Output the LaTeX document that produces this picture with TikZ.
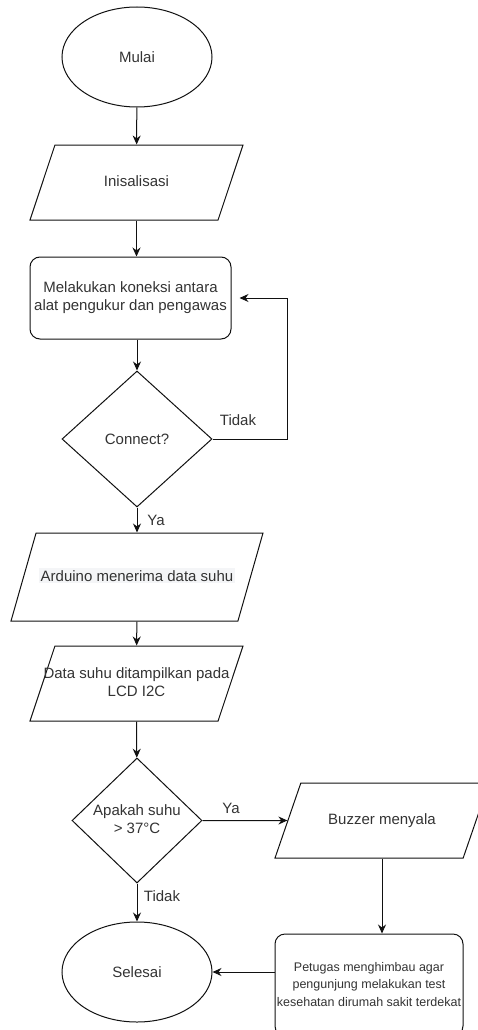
\documentclass[tikz,border=0pt]{standalone}
\usepackage{fontspec}
\setmainfont{Liberation Sans}
\usetikzlibrary{arrows.meta, shapes.geometric, positioning}
\definecolor{textgray}{HTML}{333333}
\definecolor{linegray}{HTML}{111111}
\definecolor{markbg}{HTML}{F4F5F7}
\newcommand{\flowlines}[1]{\makebox[0pt]{\begin{tabular}{@{}c@{}}#1\end{tabular}}}

\begin{document}
\begin{tikzpicture}[x=1pt, y=-1pt, ->, >={Stealth[length=9pt, width=8pt]},
		line width=1pt, color=linegray, text=textgray,
		font=\fontsize{15}{18}\selectfont,
		terminal/.style={ellipse, draw, minimum width=150pt, minimum height=100pt, inner sep=0pt},
		process/.style={rectangle, rounded corners=10pt, draw, inner sep=0pt},
		io/.style={trapezium, trapezium left angle=71.6, trapezium right angle=108.4,
			trapezium stretches body, draw, inner xsep=0pt},
		oneline/.style={text height=11pt, text depth=3pt},
		decision/.style={diamond, draw, inner sep=0pt},
		branch/.style={inner sep=0pt}]

		\useasboundingbox (0, 0) rectangle (477, 1030);

		%% Nodes
		\begin{scope}
			\node (mulai) at (137, 57) [terminal] {Mulai};
			\node (init) at (136.5, 182.5) [io, oneline, inner ysep=30.5pt, minimum width=213pt] {Inisalisasi};
			\node (koneksi) at (130.5, 298) [process, minimum width=201pt, minimum height=82pt, align=center] {Melakukan koneksi antara\\alat pengukur dan pengawas};
			\node (connect) at (137, 439) [decision, minimum width=150pt, minimum height=136pt] {Connect?};
		\end{scope}

		% Data suhu
		\begin{scope}
			\node (arduino) at (137, 577) [io, trapezium left angle=74.1, trapezium right angle=105.9,
				text height=13pt, text depth=5pt, inner ysep=35pt, minimum width=252pt]
				{\setlength{\fboxsep}{2pt}\colorbox{markbg}{Arduino menerima data suhu}};
			\node (datasuhu) at (136.5, 683.5) [io, inner ysep=19.5pt, minimum width=213pt] {\flowlines{Data suhu ditampilkan pada\\LCD I2C}};
			\node (apakah) at (137, 820.5) [decision, minimum width=130pt, minimum height=125pt] {\flowlines{Apakah suhu\\> 37°C}};
		\end{scope}

		% Hasil
		\begin{scope}
			\node (buzzer) at (382, 820.5) [io, oneline, trapezium left angle=71, trapezium right angle=109,
				inner ysep=30.5pt, minimum width=214pt] {Buzzer menyala};
			\node (petugas) at (369, 985) [process, minimum width=188pt, minimum height=102pt, font=\fontsize{12.5}{17.5}\selectfont] {\flowlines{Petugas menghimbau agar\\pengunjung melakukan test\\kesehatan dirumah sakit terdekat}};
			\node (selesai) at (137, 972) [terminal] {Selesai};
		\end{scope}

		% Labels
		\node (tidak_loop) at (238, 420) [branch] {Tidak};
		\node (ya_connect) at (156, 520) [branch] {Ya};
		\node (ya_buzzer) at (231, 808) [branch] {Ya};
		\node (tidak_selesai) at (162, 896) [branch] {Tidak};

		\coordinate (loop_corner) at (287, 439);

		%% Edges
		\draw (mulai) -- (init);
		\draw (init) -- (init |- koneksi.north);
		\draw (koneksi.south -| connect) -- (connect);
		\draw (connect.east) -- (loop_corner) |- ([xshift=8pt]koneksi.east);
		\draw (connect) -- (arduino);
		\draw (arduino) -- (datasuhu);
		\draw (datasuhu) -- (apakah);
		\draw (apakah) -- (buzzer);
		\draw (apakah) -- (selesai);
		\draw (buzzer.center |- buzzer.bottom side) -- (buzzer.center |- petugas.north);
		\draw (petugas.west |- selesai) -- (selesai);
	\end{tikzpicture}
\end{document}
